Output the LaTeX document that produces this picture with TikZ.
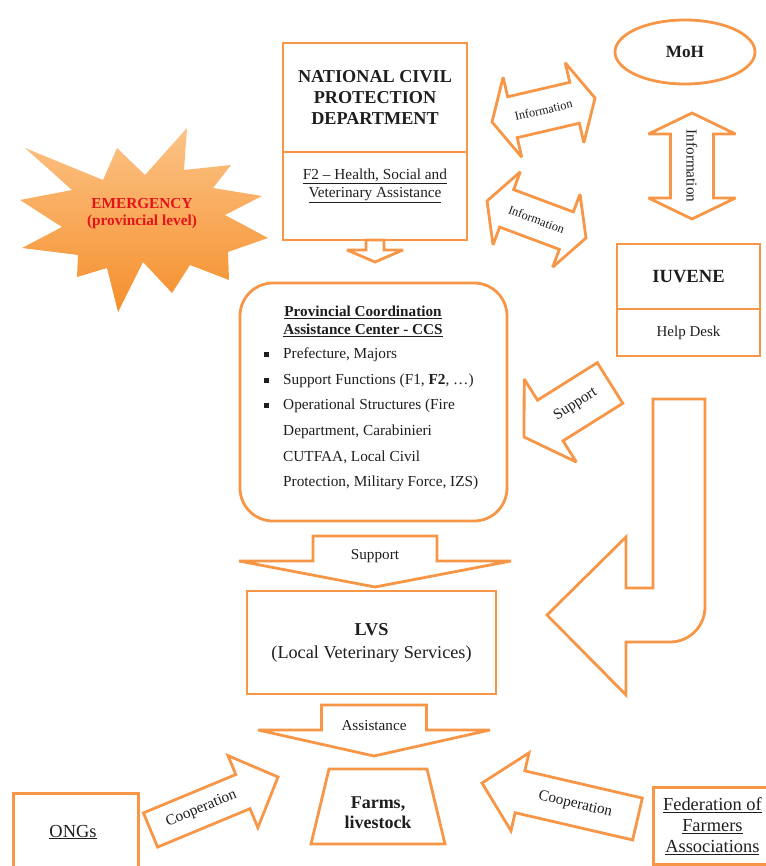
\documentclass[tikz,border=0pt]{standalone}
\usepackage{fontspec}
\setmainfont{Liberation Serif}
\usetikzlibrary{calc,shapes.geometric}
\definecolor{orn}{HTML}{F79646}
\definecolor{ink}{HTML}{1E1E1E}
\definecolor{emred}{HTML}{E5141B}
\definecolor{startop}{HTML}{FCC386}
\definecolor{starbot}{HTML}{F58F2C}

% block arrow: tail, tip, stem half width, head half width, head length, label options, label
\newcommand{\fatarrow}[7]{%
  \coordinate (#1-n) at ($(#2)!#5pt!(#1)$);
  \draw[arrowline] ($(#1)!#3pt!90:(#2)$) -- ($(#1-n)!#3pt!90:(#2)$) -- ($(#1-n)!#4pt!90:(#2)$) -- (#2)
    -- ($(#1-n)!#4pt!-90:(#2)$) -- ($(#1-n)!#3pt!-90:(#2)$) -- ($(#1)!#3pt!-90:(#2)$) -- cycle;
  \path (#1) -- (#2) node[pos=0.4, #6] {#7};}
% double block arrow: both tips, stem half width, head half width, head length, label options, label
\newcommand{\fatdarrow}[7]{%
  \coordinate (#1-n) at ($(#1)!#5pt!(#2)$);
  \coordinate (#2-n) at ($(#2)!#5pt!(#1)$);
  \draw[arrowline] (#1) -- ($(#1-n)!#4pt!90:(#2)$) -- ($(#1-n)!#3pt!90:(#2)$) -- ($(#2-n)!#3pt!-90:(#1)$)
    -- ($(#2-n)!#4pt!-90:(#1)$) -- (#2) -- ($(#2-n)!#4pt!90:(#1)$) -- ($(#2-n)!#3pt!90:(#1)$)
    -- ($(#1-n)!#3pt!-90:(#2)$) -- ($(#1-n)!#4pt!-90:(#2)$) -- cycle;
  \path (#1) -- (#2) node[midway, #6] {#7};}

\begin{document}
\begin{tikzpicture}[x=1pt, y=-1pt,
    arrowline/.style={draw=orn, line width=2.8pt, fill=white, line join=miter, miter limit=3},
    box/.style={draw=orn, line width=2.8pt, inner sep=0pt, text=ink},
    armtxt/.style={text=ink, font=\fontsize{15.2}{18}\selectfont},
    infotxt/.style={text=ink, font=\fontsize{12.3}{14}\selectfont}]
    \useasboundingbox (0,0) rectangle (765,866);

    % emergency star
    \shade[top color=startop, bottom color=starbot] (25,148) -- (103,180) -- (117,148) -- (145,175) -- (187,128)
        -- (184,170) -- (231,165) -- (213,188) -- (262,196) -- (225,215) -- (268,238) -- (228,252)
        -- (229,280) -- (190,265) -- (172,293) -- (143,262) -- (118,312) -- (107,268) -- (77,277)
        -- (78,255) -- (22,248) -- (62,227) -- (20,200) -- (72,190) -- cycle;
    \node[text=emred, align=center, font=\bfseries\fontsize{15.3}{17}\selectfont] (emerg) at (142,213.5) {EMERGENCY\\(provincial level)};

    % national level
    \node[box, minimum width=184pt, minimum height=109pt, align=center, font=\bfseries\fontsize{18.2}{21}\selectfont] (ncpd) at (375,97.5) {NATIONAL CIVIL\\PROTECTION\\DEPARTMENT};
    \node[box, minimum width=184pt, minimum height=88pt] (f2) at (375,196) {};
    \node[text=ink, align=center, font=\fontsize{15.3}{18}\selectfont] (f2txt) at (375,186) {\underline{F2 -- Health, Social and}\\\underline{Veterinary Assistance}};

    \node[box, ellipse, minimum width=140pt, minimum height=64pt, font=\bfseries\fontsize{17.2}{20}\selectfont] (moh) at (685,52) {MoH};
    \node[box, minimum width=143pt, minimum height=65pt, font=\bfseries\fontsize{18.6}{21}\selectfont] (iuvene) at (688.5,276.5) {IUVENE};
    \node[box, minimum width=143pt, minimum height=47pt, font=\fontsize{15}{18}\selectfont] (help) at (688.5,332.5) {Help Desk};

    % provincial level
    \node[box, rounded corners=33pt, minimum width=267pt, minimum height=238pt] (ccs) at (373.5,402) {};
    \node[text=ink, align=center, font=\bfseries\fontsize{15.2}{18}\selectfont] (ccstitle) at (363,321) {\underline{Provincial Coordination}\\\underline{Assistance Center - CCS}};
    \node[text=ink, anchor=west, align=left, inner sep=0pt, font=\fontsize{15.3}{25.6}\selectfont] (ccslist) at (264,419)
        {\makebox[19pt][l]{\rule[1.5pt]{5pt}{5pt}}Prefecture, Majors\\
         \makebox[19pt][l]{\rule[1.5pt]{5pt}{5pt}}Support Functions (F1, \textbf{F2}, \dots)\\
         \makebox[19pt][l]{\rule[1.5pt]{5pt}{5pt}}Operational Structures (Fire\\
         \hspace*{19pt}Department, Carabinieri\\
         \hspace*{19pt}CUTFAA, Local Civil\\
         \hspace*{19pt}Protection, Military Force, IZS)};

    \node[box, minimum width=249pt, minimum height=103pt, align=center, font=\fontsize{18.2}{23}\selectfont] (lvs) at (371.5,642.5) {\textbf{LVS}\\(Local Veterinary Services)};

    \draw[box] (329,769) -- (427,769) -- (445,844) -- (311,844) -- cycle;
    \node[text=ink, align=center, font=\bfseries\fontsize{18}{19.5}\selectfont] (farms) at (378,812.5) {Farms,\\livestock};

    \node[box, anchor=north west, minimum width=125pt, minimum height=95pt] (ongs) at (12,792) {};
    \node[text=ink, font=\fontsize{18.4}{21}\selectfont] (ongstxt) at (73,832) {\underline{ONGs}};
    \node[box, anchor=north west, minimum width=118pt, minimum height=77pt, align=center, font=\fontsize{18.4}{21}\selectfont] (fed) at (652,786)
        {\underline{Federation of}\\\underline{Farmers}\\\underline{Associations}};

    % block arrows
    \coordinate (ncpdar) at (375,240);
    \coordinate (ncpdtip) at (375,262);
    \fatarrow{ncpdar}{ncpdtip}{9}{28}{12}{}{}
    \coordinate (inf1) at (492,122);
    \coordinate (inf1b) at (595,98);
    \fatdarrow{inf1}{inf1b}{21}{41}{21}{infotxt, sloped}{Information}
    \coordinate (inf2) at (487,201);
    \coordinate (inf2b) at (586,238);
    \fatdarrow{inf2}{inf2b}{20}{39}{21}{infotxt, sloped}{Information}
    \coordinate (inf3) at (692,113);
    \coordinate (inf3b) at (692,219);
    \fatdarrow{inf3}{inf3b}{21.5}{43.5}{21}{armtxt, sloped}{Information}
    \coordinate (sup2) at (610,383);
    \coordinate (sup2tip) at (524,437);
    \fatarrow{sup2}{sup2tip}{24}{49}{31}{armtxt, sloped}{Support}
    \coordinate (sup1) at (375,536);
    \coordinate (sup1tip) at (375,587);
    \fatarrow{sup1}{sup1tip}{62}{136}{26}{armtxt}{Support}
    \coordinate (ass) at (374,705);
    \coordinate (asstip) at (374,756);
    \fatarrow{ass}{asstip}{52.5}{116}{26}{armtxt}{Assistance}
    \coordinate (coopl) at (150.5,830);
    \coordinate (coopltip) at (278,777);
    \fatarrow{coopl}{coopltip}{18.5}{39}{38}{armtxt, sloped}{Cooperation}
    \coordinate (coopr) at (637.5,819);
    \coordinate (coopttip) at (482,783);
    \fatarrow{coopr}{coopttip}{21.5}{40}{39}{armtxt, sloped}{Cooperation}

    % J arrow from IUVENE down to LVS
    \draw[arrowline] (653,399) -- (705,399) [rounded corners=35pt] -- (705,642) [sharp corners] -- (626,642)
        -- (626,695) -- (547,615) -- (626,537) -- (626,588) -- (653,588) -- cycle;
\end{tikzpicture}
\end{document}
